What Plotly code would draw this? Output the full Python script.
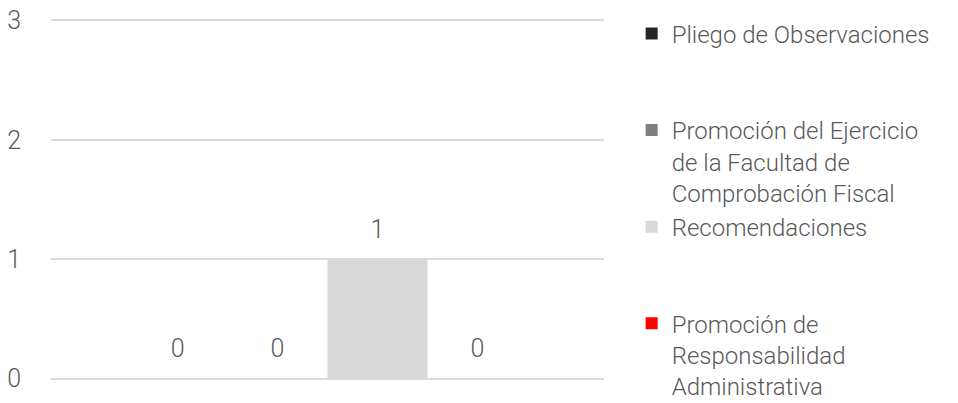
import plotly.graph_objects as go

category = [""]
series_names = [
    "Pliego de Observaciones",
    "Promoción del Ejercicio<br>de la Facultad de<br>Comprobación Fiscal",
    "Recomendaciones",
    "Promoción de<br>Responsabilidad<br>Administrativa",
]
legend_pad = ["<br> <br> ", "", "<br> <br> ", ""]
values = [0, 0, 1, 0]
colors = ["#262626", "#7f7f7f", "#d9d9d9", "#ff0000"]
y_ticks = [0, 1, 2, 3]

FONT = "Roboto"
TXT = "#595959"

fig = go.Figure()
for i, (name, v, c) in enumerate(zip(series_names, values, colors)):
    fig.add_trace(go.Bar(
        x=category, y=[v], name=name + legend_pad[i],
        marker=dict(color=c, line=dict(width=0)),
        text=[v],
        texttemplate="<span style='font-size:25px'>%{text}</span><br> ",
        textposition="outside",
        textfont=dict(family=FONT, size=12, color=TXT, weight=300),
        cliponaxis=False, legendgroup=f"g{i}",
    ))

plot_h = 403 - 17.6 - 21.6
fig.update_layout(
    width=958, height=403,
    margin=dict(l=51, r=354, t=17.6, b=21.6, autoexpand=False),
    paper_bgcolor="white", plot_bgcolor="white",
    barmode="group", bargap=0.277, bargroupgap=0,
    uniformtext=dict(mode=False),
    font=dict(family=FONT, size=25, color=TXT, weight=300),
    showlegend=True,
    legend=dict(
        x=1.05, xanchor="left",
        y=1 + (17.6 - 11) / plot_h, yanchor="top",
        valign="top", traceorder="grouped", tracegroupgap=0,
        font=dict(family=FONT, size=24, color=TXT, weight=300),
        itemwidth=30, maxheight=403,
    ),
    yaxis=dict(
        range=[-0.02, 3.02], tickvals=y_ticks, showgrid=True, gridcolor="#d9d9d9",
        gridwidth=1.5, zeroline=False, showline=False,
        ticklabelstandoff=29, tickfont=dict(size=25),
    ),
    xaxis=dict(showticklabels=False, showgrid=False, zeroline=False, showline=False),
)

fig.write_html("out.html")
